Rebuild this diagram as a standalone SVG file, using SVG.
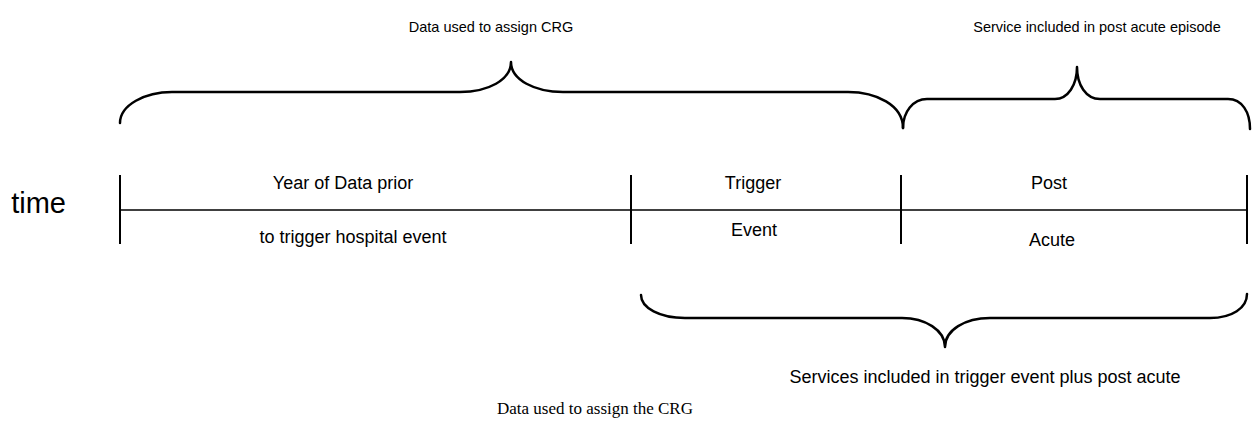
<svg xmlns="http://www.w3.org/2000/svg" width="1256" height="423" viewBox="0 0 1256 423">
<style>
.ln{stroke:#000;stroke-width:2;fill:none}
.br{stroke:#000;stroke-width:2.5;fill:none;stroke-linejoin:round;stroke-linecap:round}
.t{font-family:"Liberation Sans",Arial,sans-serif;fill:#000;text-anchor:middle}
.s{font-family:"Liberation Serif","Times New Roman",serif;fill:#000;text-anchor:middle}
</style>
<rect width="1256" height="423" fill="#fff"/>
<g id="connectors">
<line class="ln" x1="120" y1="210" x2="1247" y2="210" style="stroke-width:1.5"/>
<line class="ln" x1="120" y1="175" x2="120" y2="244"/>
<line class="ln" x1="631" y1="175" x2="631" y2="244"/>
<line class="ln" x1="901" y1="175" x2="901" y2="244"/>
<line class="ln" x1="1247" y1="175" x2="1247" y2="244"/>
<path class="br" d="M120,123 C120,105 145,92 172,92 L460,92 C488,92 511,80 511,62 C511,80 535,92 563,92 L848,92 C876,92 903,105 903,128"/>
<path class="br" d="M903,128 C903,112 913,99 927,99 L1055,99 C1068,99 1077,85 1077,67 C1077,85 1086,99 1100,99 L1228,99 C1242,99 1250,112 1250,129"/>
<path class="br" d="M641,295 C641,308 660,318 685,318 L902,318 C925,318 945,330 945,347 C945,330 965,318 990,318 L1210,318 C1232,318 1247,308 1247,294"/>
</g>
<g id="label-time"><text class="t" x="66" y="213" font-size="29" style="text-anchor:end">time</text></g>
<g id="label-top1"><text class="t" x="491" y="32" font-size="14.5">Data used to assign CRG</text></g>
<g id="label-top2"><text class="t" x="1097" y="32" font-size="14.5">Service included in post acute episode</text></g>
<g id="seg1"><text class="t" x="343" y="189" font-size="18">Year of Data prior</text><text class="t" x="353" y="243" font-size="18">to trigger hospital event</text></g>
<g id="seg2"><text class="t" x="753" y="189" font-size="18">Trigger</text><text class="t" x="754" y="236" font-size="18">Event</text></g>
<g id="seg3"><text class="t" x="1049" y="189" font-size="18">Post</text><text class="t" x="1052" y="246" font-size="18">Acute</text></g>
<g id="label-bottom"><text class="t" x="985" y="383" font-size="18">Services included in trigger event plus post acute</text></g>
<g id="caption"><text class="s" x="595" y="414" font-size="17">Data used to assign the CRG</text></g>
</svg>
